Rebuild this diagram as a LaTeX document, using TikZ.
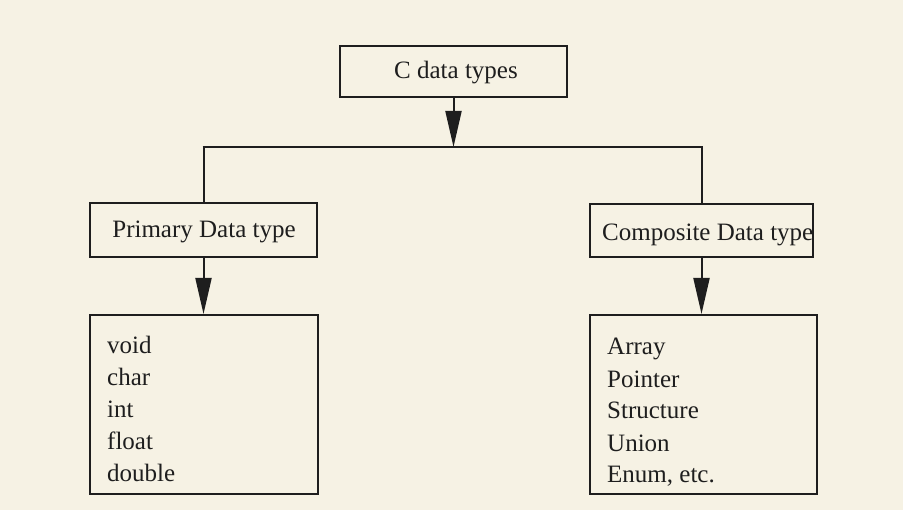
\documentclass[tikz,border=0pt]{standalone}
\usepackage{fontspec}
\setmainfont{Liberation Serif}
\usetikzlibrary{arrows.meta}
\definecolor{paper}{HTML}{F6F2E4}
\definecolor{ink}{HTML}{1E1E1E}
\tikzset{
  box/.style={draw=ink, line width=2pt, inner sep=0pt},
  lbl/.style={text=ink, inner sep=0pt, font=\fontsize{25}{32}\selectfont},
  link/.style={draw=ink, line width=2pt},
  arrowlink/.style={link, -{Triangle[length=36pt,width=16pt]}}
}
\begin{document}
\begin{tikzpicture}[x=1pt,y=-1pt]
\fill[paper] (0,0) rectangle (903,510);
\useasboundingbox (0,0) rectangle (903,510);
% boxes
\node[box, minimum width=227pt, minimum height=51pt] (top) at (453.5,71.5) {};
\node[lbl] (toptxt) at (456,73) {C data types};
\node[box, minimum width=227pt, minimum height=54pt] (prim) at (203.5,230) {};
\node[lbl] (primtxt) at (204,232) {Primary Data type};
\node[box, minimum width=223pt, minimum height=53pt] (comp) at (701.5,230.5) {};
\node[lbl, anchor=base west] (comptxt) at (602,241) {Composite Data type};
\node[box, minimum width=228pt, minimum height=179pt] (plist) at (204,404.5) {};
\node[lbl, anchor=base west, align=left] (plisttxt) at (107,482) {void\\char\\int\\float\\double};
\node[box, minimum width=227pt, minimum height=179pt] (clist) at (703.5,404.5) {};
\node[lbl, anchor=base west, align=left] (clisttxt) at (607,483) {Array\\Pointer\\Structure\\Union\\Enum, etc.};
% junction
\coordinate (jm) at (453.5,147);
\coordinate (jl) at (203.5,147);
\coordinate (jr) at (701.5,147);
\draw[arrowlink] (top.south) -- (jm);
\draw[link] ([xshift=-1pt]jl) -- ([xshift=1pt]jr);
\draw[link] ([yshift=-1pt]jl) -- (prim.north);
\draw[link] ([yshift=-1pt]jr) -- (comp.north);
\draw[arrowlink] (prim.south) -- (prim.south |- plist.north);
\draw[arrowlink] (comp.south) -- (comp.south |- clist.north);
\end{tikzpicture}
\end{document}
